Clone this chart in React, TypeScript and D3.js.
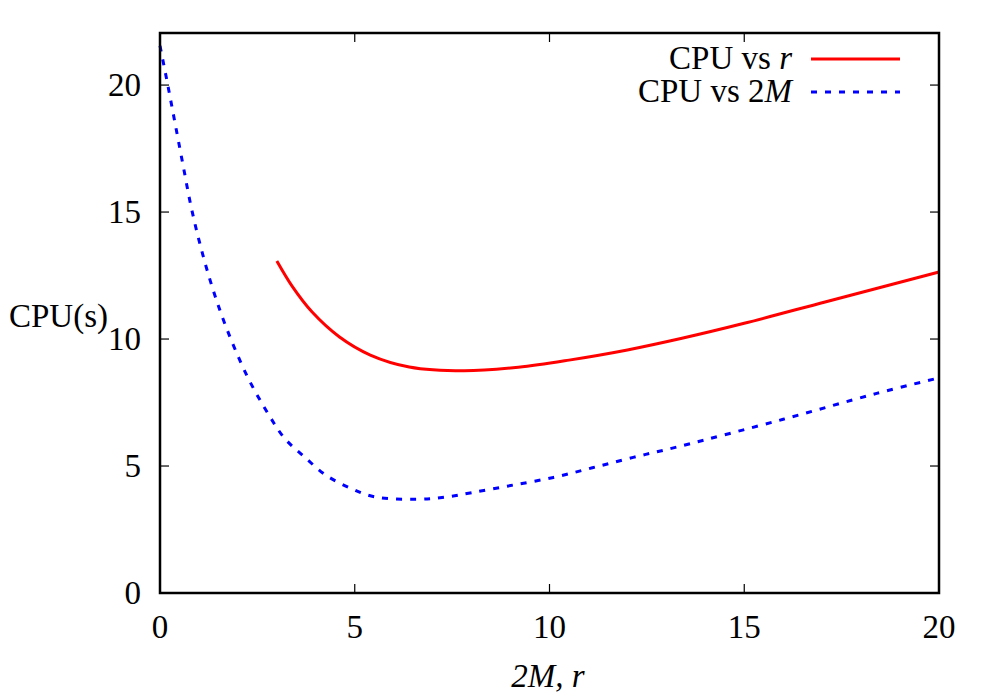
// Line chart: CPU time vs r and vs 2M
import React, { useEffect, useRef } from "react"
import * as d3 from "d3"

const rX = [3, 3.4, 3.9, 4.6, 5.4, 6.4, 7.8, 9.2, 10.5, 12, 13.4, 15, 17.1, 20]
const rY = [13.07, 12.06, 11.07, 10.09, 9.37, 8.9, 8.75, 8.89, 9.17, 9.57, 10.03, 10.62, 11.47, 12.64]

const mX = [0, 0.2, 0.4, 0.6, 0.8, 1.05, 1.35, 1.7, 2.25, 2.8, 3.2, 3.7, 4.25, 4.9, 5.5, 6.6, 7.3, 8, 9, 10.1, 11.1, 12.15, 13.3, 16, 18.4, 20]
const mY = [21.55, 20.0, 18.39, 16.78, 15.2, 13.6, 12.0, 10.46, 8.5, 7.0, 6.09, 5.37, 4.65, 4.12, 3.79, 3.69, 3.77, 3.95, 4.23, 4.55, 4.93, 5.34, 5.76, 6.84, 7.86, 8.47]

const xTicks = [0, 5, 10, 15, 20]
const yTicks = [0, 5, 10, 15, 20]

export default function App() {
  const ref = useRef<SVGSVGElement>(null)

  useEffect(() => {
    const svg = d3.select(ref.current)
    svg.selectAll("*").remove()

    const left = 160, right = 939, top = 33, bottom = 593
    const font = "'Liberation Serif', 'Times New Roman', serif"
    const fs = 33

    const x = d3.scaleLinear().domain([0, 20]).range([left, right])
    const y = d3.scaleLinear().domain([0, 22.05]).range([bottom, top])

    // ticks on all four sides, pointing inwards
    const tl = 9
    const g = svg.append("g").attr("stroke", "#000").attr("stroke-width", 1.2)
    xTicks.forEach(t => {
      g.append("line").attr("x1", x(t)).attr("x2", x(t)).attr("y1", bottom).attr("y2", bottom - tl)
      g.append("line").attr("x1", x(t)).attr("x2", x(t)).attr("y1", top).attr("y2", top + tl)
    })
    yTicks.forEach(t => {
      g.append("line").attr("x1", left).attr("x2", left + tl).attr("y1", y(t)).attr("y2", y(t))
      g.append("line").attr("x1", right).attr("x2", right - tl).attr("y1", y(t)).attr("y2", y(t))
    })

    svg.selectAll(".xl").data(xTicks).enter().append("text")
      .attr("x", d => x(d)).attr("y", 638)
      .attr("text-anchor", "middle")
      .attr("font-family", font).attr("font-size", fs)
      .text(d => d)

    svg.selectAll(".yl").data(yTicks).enter().append("text")
      .attr("x", 141).attr("y", d => y(d) + 11)
      .attr("text-anchor", "end")
      .attr("font-family", font).attr("font-size", fs)
      .text(d => d)

    const line = d3.line<[number, number]>()
      .x(d => x(d[0])).y(d => y(d[1]))
      .curve(d3.curveCatmullRom.alpha(0.5))

    svg.append("path")
      .attr("d", line(mX.map((v, i) => [v, mY[i]]) as [number, number][]))
      .attr("fill", "none").attr("stroke", "#0000ff")
      .attr("stroke-width", 3).attr("stroke-dasharray", "6,8")

    svg.append("path")
      .attr("d", line(rX.map((v, i) => [v, rY[i]]) as [number, number][]))
      .attr("fill", "none").attr("stroke", "#ff0000")
      .attr("stroke-width", 3)

    // frame
    svg.append("rect")
      .attr("x", left).attr("y", top)
      .attr("width", right - left).attr("height", bottom - top)
      .attr("fill", "none").attr("stroke", "#000").attr("stroke-width", 2.5)

    // axis titles
    svg.append("text")
      .attr("x", 9).attr("y", 327)
      .attr("font-family", font).attr("font-size", fs)
      .text("CPU(s)")

    svg.append("text")
      .attr("x", 548).attr("y", 687)
      .attr("text-anchor", "middle")
      .attr("font-family", font).attr("font-size", fs).attr("font-style", "italic")
      .text("2M, r")

    // legend
    const lg = svg.append("g").attr("font-family", font).attr("font-size", fs)
    const t1 = lg.append("text").attr("x", 792).attr("y", 69).attr("text-anchor", "end")
    t1.append("tspan").text("CPU vs ")
    t1.append("tspan").attr("font-style", "italic").text("r")
    const t2 = lg.append("text").attr("x", 792).attr("y", 102).attr("text-anchor", "end")
    t2.append("tspan").text("CPU vs 2")
    t2.append("tspan").attr("font-style", "italic").text("M")

    lg.append("line").attr("x1", 811).attr("x2", 900).attr("y1", 59).attr("y2", 59)
      .attr("stroke", "#ff0000").attr("stroke-width", 3)
    lg.append("line").attr("x1", 811).attr("x2", 900).attr("y1", 92).attr("y2", 92)
      .attr("stroke", "#0000ff").attr("stroke-width", 3).attr("stroke-dasharray", "6,8")
  }, [])

  return (
    <svg ref={ref} width={1000} height={700}
      style={{ position: "absolute", left: 0, top: 0, background: "#fff" }} />
  )
}
